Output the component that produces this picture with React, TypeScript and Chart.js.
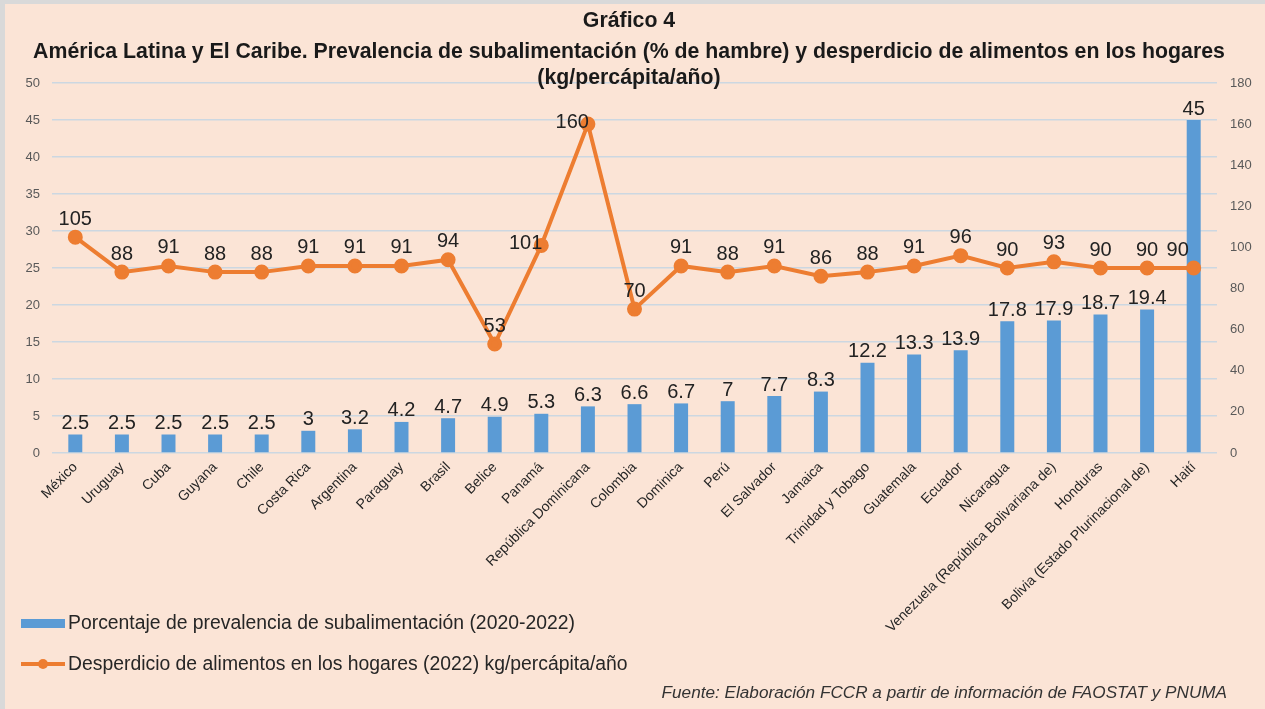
import React, { useEffect, useRef } from 'react';
import { Chart, registerables } from 'chart.js';

Chart.register(...registerables);

const categories = [
  'México', 'Uruguay', 'Cuba', 'Guyana', 'Chile', 'Costa Rica', 'Argentina', 'Paraguay',
  'Brasil', 'Belice', 'Panamá', 'República Dominicana', 'Colombia', 'Dominica', 'Perú',
  'El Salvador', 'Jamaica', 'Trinidad y Tobago', 'Guatemala', 'Ecuador', 'Nicaragua',
  'Venezuela (República Bolivariana de)', 'Honduras', 'Bolivia (Estado Plurinacional de)', 'Haití',
];

const hungerPct = [
  2.5, 2.5, 2.5, 2.5, 2.5, 3, 3.2, 4.2, 4.7, 4.9, 5.3, 6.3, 6.6, 6.7, 7, 7.7, 8.3,
  12.2, 13.3, 13.9, 17.8, 17.9, 18.7, 19.4, 45,
];

const foodWaste = [
  105, 88, 91, 88, 88, 91, 91, 91, 94, 53, 101, 160, 70, 91, 88, 91, 86, 88, 91, 96,
  90, 93, 90, 90, 90,
];

const titleLines = [
  'Gráfico 4',
  'América Latina y El Caribe. Prevalencia de subalimentación (% de hambre) y desperdicio de alimentos en los hogares',
  '(kg/percápita/año)',
];
const legendBar = 'Porcentaje de prevalencia de subalimentación (2020-2022)';
const legendLine = 'Desperdicio de alimentos en los hogares (2022) kg/percápita/año';
const sourceText = 'Fuente: Elaboración FCCR a partir de información de FAOSTAT y PNUMA';

const BLUE = '#5B9BD5';
const ORANGE = '#ED7D31';
const BG = '#FBE4D6';
const GRID = '#CCD7E1';
const FONT = "'Liberation Sans', Arial, sans-serif";

const W = 1265;
const H = 709;

const decorPlugin = {
  id: 'decor',
  beforeDraw(chart: any) {
    const ctx = chart.ctx;
    ctx.save();
    ctx.fillStyle = BG;
    ctx.fillRect(0, 0, W, H);
    ctx.fillStyle = '#D9D9D9';
    ctx.fillRect(0, 0, W, 4);
    ctx.fillRect(0, 0, 5, H);
    ctx.restore();
  },
  afterDatasetsDraw(chart: any) {
    const ctx = chart.ctx;
    ctx.save();
    ctx.font = `20px ${FONT}`;
    ctx.fillStyle = '#222222';
    const barMeta = chart.getDatasetMeta(1);
    barMeta.data.forEach((el: any, i: number) => {
      ctx.textAlign = 'center';
      ctx.textBaseline = 'bottom';
      ctx.fillText(String(hungerPct[i]), el.x, el.y - 1);
    });
    const lineMeta = chart.getDatasetMeta(0);
    lineMeta.data.forEach((el: any, i: number) => {
      const v = foodWaste[i];
      if (i === 10 || i === 11) {
        ctx.textAlign = 'right';
        ctx.textBaseline = 'middle';
        ctx.fillText(String(v), el.x + 1, el.y - 2);
      } else {
        ctx.textAlign = 'center';
        ctx.textBaseline = 'bottom';
        const dx = i === 24 ? -16 : 0;
        ctx.fillText(String(v), el.x + dx, el.y - 8);
      }
    });
    ctx.restore();
  },
  afterDraw(chart: any) {
    const ctx = chart.ctx;
    ctx.save();
    ctx.fillStyle = '#1A1A1A';
    ctx.textAlign = 'center';
    ctx.textBaseline = 'middle';
    // title
    ctx.font = `bold 18px ${FONT}`;
    const w2 = ctx.measureText(titleLines[1]).width;
    const size = 18 * 1192 / w2;
    ctx.font = `bold ${size.toFixed(2)}px ${FONT}`;
    ctx.fillText(titleLines[0], 629, 21);
    ctx.fillText(titleLines[1], 629, 52);
    ctx.fillText(titleLines[2], 629, 78);

    // legend
    ctx.fillStyle = BLUE;
    ctx.fillRect(21, 619, 44, 9);
    ctx.strokeStyle = ORANGE;
    ctx.lineWidth = 4;
    ctx.beginPath();
    ctx.moveTo(21, 664);
    ctx.lineTo(65, 664);
    ctx.stroke();
    ctx.fillStyle = ORANGE;
    ctx.beginPath();
    ctx.arc(43, 664, 5, 0, Math.PI * 2);
    ctx.fill();

    ctx.fillStyle = '#262626';
    ctx.textAlign = 'left';
    ctx.font = `17px ${FONT}`;
    const lw = ctx.measureText(legendBar).width;
    const ls = 17 * 507 / lw;
    ctx.font = `${ls.toFixed(2)}px ${FONT}`;
    ctx.fillText(legendBar, 68, 624);
    ctx.fillText(legendLine, 68, 665);

    // source
    ctx.font = `italic 15px ${FONT}`;
    const sw = ctx.measureText(sourceText).width;
    const ss = 15 * 566 / sw;
    ctx.font = `italic ${ss.toFixed(2)}px ${FONT}`;
    ctx.textAlign = 'right';
    ctx.fillStyle = '#333333';
    ctx.fillText(sourceText, 1227, 693);
    ctx.restore();
  },
};

export default function App() {
  const ref = useRef<HTMLCanvasElement | null>(null);

  useEffect(() => {
    if (!ref.current) return;
    Chart.defaults.font.family = FONT;
    const chart = new Chart(ref.current, {
      type: 'bar',
      data: {
        labels: categories,
        datasets: [
          {
            type: 'line',
            label: legendLine,
            data: foodWaste,
            yAxisID: 'y1',
            borderColor: ORANGE,
            backgroundColor: ORANGE,
            borderWidth: 4,
            pointRadius: 5.5,
            pointBackgroundColor: ORANGE,
            pointBorderColor: ORANGE,
            tension: 0,
            order: 0,
          } as any,
          {
            type: 'bar',
            label: legendBar,
            data: hungerPct,
            yAxisID: 'y',
            backgroundColor: BLUE,
            borderWidth: 0,
            categoryPercentage: 1,
            barPercentage: 0.3,
            order: 1,
          } as any,
        ],
      },
      options: {
        responsive: false,
        animation: false,
        layout: { padding: { top: 83, left: 0, right: 0, bottom: 0 } },
        plugins: {
          legend: { display: false },
          title: { display: false },
          tooltip: { enabled: false },
        },
        scales: {
          x: {
            grid: { display: false, drawTicks: false },
            border: { display: false },
            ticks: {
              autoSkip: false,
              minRotation: 45,
              maxRotation: 45,
              color: '#262626',
              font: { size: 14, family: FONT },
              padding: 6,
            },
            afterFit: (s: any) => { s.height = 256; },
          },
          y: {
            position: 'left',
            min: 0,
            max: 50,
            ticks: { stepSize: 5, color: '#595959', font: { size: 13, family: FONT }, padding: 12 },
            grid: { color: GRID, lineWidth: 1.5, drawTicks: false },
            border: { display: false },
            afterFit: (s: any) => { s.width = 52; },
          },
          y1: {
            position: 'right',
            min: 0,
            max: 180,
            ticks: { stepSize: 20, color: '#595959', font: { size: 13, family: FONT }, padding: 13 },
            grid: { drawOnChartArea: false, drawTicks: false },
            border: { display: false },
            afterFit: (s: any) => { s.width = 48; },
          },
        },
      } as any,
      plugins: [decorPlugin],
    });
    return () => chart.destroy();
  }, []);

  return (
    <canvas
      ref={ref}
      width={W}
      height={H}
      style={{ position: 'fixed', left: 0, top: 0, width: W, height: H, display: 'block' }}
    />
  );
}
